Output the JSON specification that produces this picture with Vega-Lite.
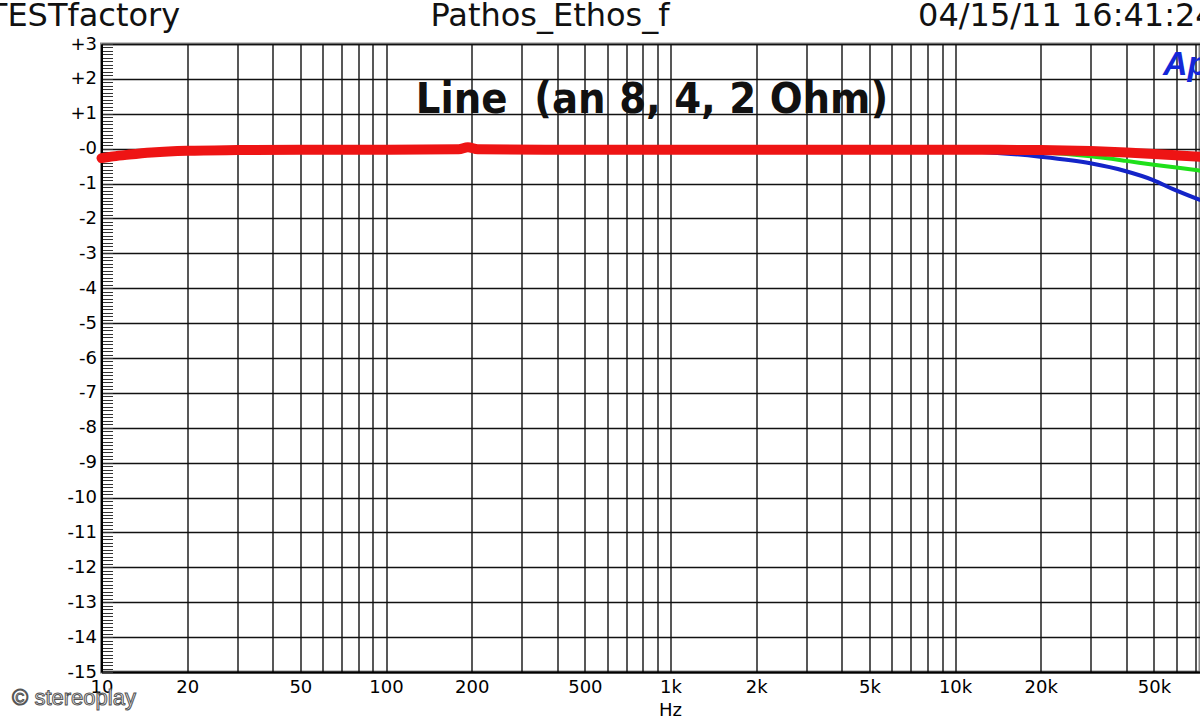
{
  "$schema": "https://vega.github.io/schema/vega-lite/v6.json",
  "width": 1098.5,
  "height": 628,
  "autosize": {"type": "none"},
  "padding": {"left": 101.5, "top": 44, "right": 0, "bottom": 48},
  "background": "white",
  "config": {"view": {"stroke": "#8a8a8a", "strokeWidth": 3}, "font": "DejaVu Sans"},
  "datasets": {
    "curves": [
      {"f": 10, "db": -0.27, "load": "2 Ohm"},
      {"f": 12.5, "db": -0.17, "load": "2 Ohm"},
      {"f": 15, "db": -0.11, "load": "2 Ohm"},
      {"f": 20, "db": -0.06, "load": "2 Ohm"},
      {"f": 30, "db": -0.04, "load": "2 Ohm"},
      {"f": 100, "db": -0.03, "load": "2 Ohm"},
      {"f": 1000, "db": -0.03, "load": "2 Ohm"},
      {"f": 5000, "db": -0.04, "load": "2 Ohm"},
      {"f": 10000, "db": -0.07, "load": "2 Ohm"},
      {"f": 13300, "db": -0.11, "load": "2 Ohm"},
      {"f": 19900, "db": -0.23, "load": "2 Ohm"},
      {"f": 29900, "db": -0.42, "load": "2 Ohm"},
      {"f": 39600, "db": -0.64, "load": "2 Ohm"},
      {"f": 49700, "db": -0.9, "load": "2 Ohm"},
      {"f": 58400, "db": -1.16, "load": "2 Ohm"},
      {"f": 72600, "db": -1.47, "load": "2 Ohm"},
      {"f": 10, "db": -0.27, "load": "4 Ohm"},
      {"f": 12.5, "db": -0.17, "load": "4 Ohm"},
      {"f": 15, "db": -0.11, "load": "4 Ohm"},
      {"f": 20, "db": -0.06, "load": "4 Ohm"},
      {"f": 30, "db": -0.04, "load": "4 Ohm"},
      {"f": 100, "db": -0.03, "load": "4 Ohm"},
      {"f": 1000, "db": -0.03, "load": "4 Ohm"},
      {"f": 5000, "db": -0.03, "load": "4 Ohm"},
      {"f": 10000, "db": -0.04, "load": "4 Ohm"},
      {"f": 20000, "db": -0.1, "load": "4 Ohm"},
      {"f": 30000, "db": -0.22, "load": "4 Ohm"},
      {"f": 40000, "db": -0.35, "load": "4 Ohm"},
      {"f": 50000, "db": -0.46, "load": "4 Ohm"},
      {"f": 60000, "db": -0.54, "load": "4 Ohm"},
      {"f": 72600, "db": -0.63, "load": "4 Ohm"},
      {"f": 10, "db": -0.27, "load": "8 Ohm"},
      {"f": 11, "db": -0.22, "load": "8 Ohm"},
      {"f": 12.5, "db": -0.17, "load": "8 Ohm"},
      {"f": 15, "db": -0.11, "load": "8 Ohm"},
      {"f": 20, "db": -0.06, "load": "8 Ohm"},
      {"f": 30, "db": -0.04, "load": "8 Ohm"},
      {"f": 50, "db": -0.03, "load": "8 Ohm"},
      {"f": 100, "db": -0.03, "load": "8 Ohm"},
      {"f": 180, "db": -0.02, "load": "8 Ohm"},
      {"f": 194, "db": 0.04, "load": "8 Ohm"},
      {"f": 210, "db": -0.02, "load": "8 Ohm"},
      {"f": 500, "db": -0.03, "load": "8 Ohm"},
      {"f": 1000, "db": -0.03, "load": "8 Ohm"},
      {"f": 2000, "db": -0.03, "load": "8 Ohm"},
      {"f": 5000, "db": -0.03, "load": "8 Ohm"},
      {"f": 10000, "db": -0.03, "load": "8 Ohm"},
      {"f": 20000, "db": -0.04, "load": "8 Ohm"},
      {"f": 30000, "db": -0.07, "load": "8 Ohm"},
      {"f": 40000, "db": -0.11, "load": "8 Ohm"},
      {"f": 50000, "db": -0.15, "load": "8 Ohm"},
      {"f": 60000, "db": -0.19, "load": "8 Ohm"},
      {"f": 72600, "db": -0.23, "load": "8 Ohm"}
    ]
  },
  "layer": [
    {
      "data": {"name": "curves"},
      "transform": [{"filter": "datum.load === '2 Ohm'"}],
      "mark": {"type": "line", "interpolate": "monotone", "strokeWidth": 4, "color": "#1424c8", "strokeCap": "round"},
      "encoding": {
        "x": {
          "field": "f", "type": "quantitative",
          "scale": {"type": "log", "domain": [10, 72600], "nice": false},
          "axis": {
            "title": "Hz",
            "values": [10,20,30,40,50,60,70,80,90,100,200,300,400,500,600,700,800,900,1000,2000,3000,4000,5000,6000,7000,8000,9000,10000,20000,30000,40000,50000,60000,70000],
            "tickCount": 1000,
            "grid": true, "gridColor": "#111111", "gridWidth": 1.4,
            "ticks": false,
            "domain": true, "domainColor": "#000000", "domainWidth": 2,
            "labelExpr": "indexof([10,20,50,100,200,500,1000,2000,5000,10000,20000,50000], datum.value) >= 0 ? (datum.value >= 1000 ? (datum.value / 1000) + 'k' : '' + datum.value) : ''",
            "labelFont": "DejaVu Sans", "labelFontSize": 18, "labelColor": "#000000", "labelPadding": 6,
            "labelFlush": false, "labelOverlap": false, "labelBound": false,
            "titleFont": "DejaVu Sans", "titleFontSize": 18, "titleFontWeight": "normal", "titleColor": "#000000",
            "titlePadding": 5, "titleX": 568.5
          }
        },
        "y": {
          "field": "db", "type": "quantitative",
          "scale": {"domain": [-15, 3], "nice": false, "zero": false},
          "axis": {
            "title": null,
            "values": [-15,-14.9,-14.8,-14.7,-14.6,-14.5,-14.4,-14.3,-14.2,-14.1,-14,-13.9,-13.8,-13.7,-13.6,-13.5,-13.4,-13.3,-13.2,-13.1,-13,-12.9,-12.8,-12.7,-12.6,-12.5,-12.4,-12.3,-12.2,-12.1,-12,-11.9,-11.8,-11.7,-11.6,-11.5,-11.4,-11.3,-11.2,-11.1,-11,-10.9,-10.8,-10.7,-10.6,-10.5,-10.4,-10.3,-10.2,-10.1,-10,-9.9,-9.8,-9.7,-9.6,-9.5,-9.4,-9.3,-9.2,-9.1,-9,-8.9,-8.8,-8.7,-8.6,-8.5,-8.4,-8.3,-8.2,-8.1,-8,-7.9,-7.8,-7.7,-7.6,-7.5,-7.4,-7.3,-7.2,-7.1,-7,-6.9,-6.8,-6.7,-6.6,-6.5,-6.4,-6.3,-6.2,-6.1,-6,-5.9,-5.8,-5.7,-5.6,-5.5,-5.4,-5.3,-5.2,-5.1,-5,-4.9,-4.8,-4.7,-4.6,-4.5,-4.4,-4.3,-4.2,-4.1,-4,-3.9,-3.8,-3.7,-3.6,-3.5,-3.4,-3.3,-3.2,-3.1,-3,-2.9,-2.8,-2.7,-2.6,-2.5,-2.4,-2.3,-2.2,-2.1,-2,-1.9,-1.8,-1.7,-1.6,-1.5,-1.4,-1.3,-1.2,-1.1,-1,-0.9,-0.8,-0.7,-0.6,-0.5,-0.4,-0.3,-0.2,-0.1,0,0.1,0.2,0.3,0.4,0.5,0.6,0.7,0.8,0.9,1,1.1,1.2,1.3,1.4,1.5,1.6,1.7,1.8,1.9,2,2.1,2.2,2.3,2.4,2.5,2.6,2.7,2.8,2.9,3],
            "tickCount": 1000,
            "grid": true, "gridColor": "#111111", "gridWidth": 1.4,
            "gridOpacity": {"condition": {"test": "datum.value % 1 === 0", "value": 1}, "value": 0},
            "ticks": true, "tickSize": -11, "tickColor": "#333333", "tickWidth": 1,
            "domain": true, "domainColor": "#000000", "domainWidth": 2,
            "labelExpr": "datum.value % 1 !== 0 ? '' : (datum.value > 0 ? '+' + datum.value : (datum.value === 0 ? '-0' : '' + datum.value))",
            "labelFont": "DejaVu Sans", "labelFontSize": 18, "labelColor": "#000000", "labelPadding": 16,
            "labelFlush": false, "labelOverlap": false, "labelBound": false
          }
        }
      }
    },
    {
      "data": {"name": "curves"},
      "transform": [{"filter": "datum.load === '4 Ohm'"}],
      "mark": {"type": "line", "interpolate": "monotone", "strokeWidth": 4, "color": "#1ee01a", "strokeCap": "round"},
      "encoding": {
        "x": {"field": "f", "type": "quantitative"},
        "y": {"field": "db", "type": "quantitative"}
      }
    },
    {
      "data": {"name": "curves"},
      "transform": [{"filter": "datum.load === '8 Ohm'"}],
      "mark": {"type": "line", "interpolate": "monotone", "strokeWidth": 10, "color": "#ee1414", "strokeCap": "round"},
      "encoding": {
        "x": {"field": "f", "type": "quantitative"},
        "y": {"field": "db", "type": "quantitative"}
      }
    },
    {
      "data": {"values": [{}]},
      "mark": {"type": "text", "text": "Line \u00a0(an 8, 4, 2 Ohm)", "font": "DejaVu Sans Condensed, Liberation Sans Narrow, DejaVu Sans, sans-serif", "fontWeight": "bold", "fontSize": 43, "align": "center", "baseline": "alphabetic", "color": "#111111"},
      "encoding": {"x": {"datum": 860}, "y": {"datum": 1.02}}
    },
    {
      "data": {"values": [{}]},
      "mark": {"type": "text", "text": "TESTfactory", "font": "DejaVu Sans", "fontSize": 32, "align": "right", "baseline": "alphabetic", "color": "#111111"},
      "encoding": {"x": {"datum": 18.9}, "y": {"datum": 3.516}}
    },
    {
      "data": {"values": [{}]},
      "mark": {"type": "text", "text": "Pathos_Ethos_f", "font": "DejaVu Sans", "fontSize": 32, "align": "center", "baseline": "alphabetic", "color": "#111111"},
      "encoding": {"x": {"datum": 377}, "y": {"datum": 3.516}}
    },
    {
      "data": {"values": [{}]},
      "mark": {"type": "text", "text": "04/15/11 16:41:24", "font": "DejaVu Sans", "fontSize": 32, "align": "left", "baseline": "alphabetic", "color": "#111111"},
      "encoding": {"x": {"datum": 7413}, "y": {"datum": 3.516}}
    },
    {
      "data": {"values": [{}]},
      "mark": {"type": "text", "text": "Ap", "font": "Liberation Sans", "fontWeight": "bold", "fontStyle": "italic", "fontSize": 34, "align": "left", "baseline": "alphabetic", "color": "#1428d8"},
      "encoding": {"x": {"datum": 53800}, "y": {"datum": 2.11}}
    },
    {
      "data": {"values": [{}]},
      "mark": {"type": "text", "text": "© stereoplay", "font": "Liberation Sans", "fontSize": 22, "align": "left", "baseline": "alphabetic", "fill": "#eeeeee", "stroke": "#555555", "strokeWidth": 1},
      "encoding": {"x": {"datum": 4.85}, "y": {"datum": -15.946}}
    }
  ]
}
